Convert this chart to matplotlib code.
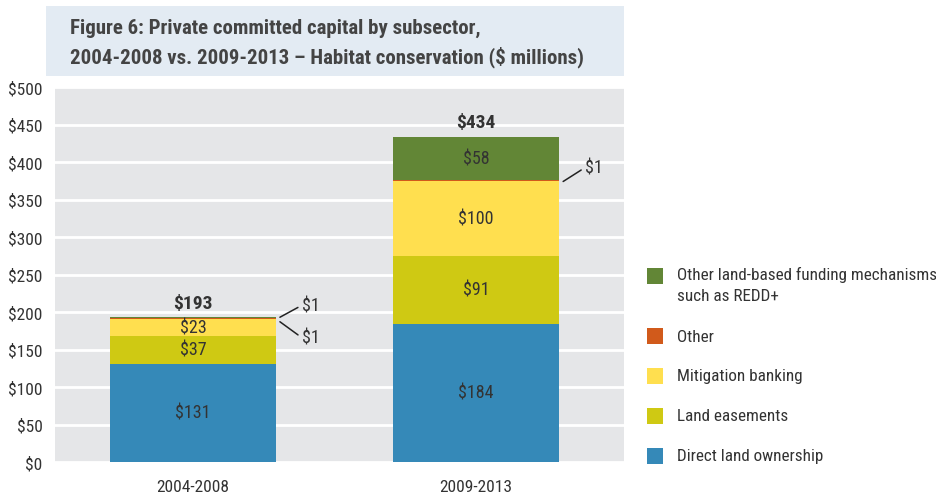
import matplotlib
matplotlib.use('Agg')
import matplotlib.pyplot as plt
from matplotlib import font_manager
from matplotlib.patches import Rectangle

# ---------------- data ----------------
periods = ['2004-2008', '2009-2013']
subsectors = ['Direct land ownership', 'Land easements', 'Mitigation banking', 'Other',
              'Other land-based funding mechanisms\nsuch as REDD+']
direct_land = [131, 184]
land_easements = [37, 91]
mitigation_banking = [23, 100]
other = [1, 1]
other_land_based = [1, 58]
totals = [193, 434]
yticks = [0, 50, 100, 150, 200, 250, 300, 350, 400, 450, 500]
ytick_labels = ['$0', '$50', '$100', '$150', '$200', '$250', '$300', '$350', '$400', '$450', '$500']
title = 'Figure 6: Private committed capital by subsector,\n2004-2008 vs. 2009-2013 – Habitat conservation ($ millions)'

colors = ['#3589b8', '#cfc913', '#ffdf4f', '#d15a1b', '#628636']
TEXT = '#333333'

# ---------------- fonts ----------------
avail = {f.name for f in font_manager.fontManager.ttflist}
font = 'DejaVu Sans'
for cand in ['Liberation Sans Narrow', 'Roboto Condensed', 'Open Sans Condensed', 'DejaVu Sans Condensed']:
    if cand in avail:
        font = cand
        break
plt.rcParams['font.family'] = [font, 'DejaVu Sans']
if font == 'DejaVu Sans':
    plt.rcParams['font.stretch'] = 'condensed'

fig = plt.figure(figsize=(9.36, 5.02), dpi=100)
W, H = 936, 502

# title box
fig.patches.append(Rectangle((45.5 / W, (H - 77) / H), 578.5 / W, 70 / H,
                             transform=fig.transFigure, facecolor='#e3ebf3', edgecolor='none', zorder=0))
fig.text(70 / W, (H - 43) / H, title, fontsize=15, fontweight='bold', color='#444444',
         ha='left', va='center', linespacing=1.5)

ax = fig.add_axes([55 / W, 39 / H, 569 / W, 375 / H])
ax.set_facecolor('#e5e6e8')
for s in ax.spines.values():
    s.set_visible(False)
ax.set_ylim(0, 500)
ax.set_xlim(-0.487, 1.522)
ax.set_yticks(yticks)
ax.set_yticklabels(ytick_labels)
ax.yaxis.grid(True, color='white', linewidth=2)
ax.set_axisbelow(True)
ax.tick_params(axis='both', length=0, labelsize=12.5, colors=TEXT)
ax.tick_params(axis='y', pad=9)
ax.tick_params(axis='x', pad=12)

x = list(range(len(periods)))
width = 0.586
series = [direct_land, land_easements, mitigation_banking, other, other_land_based]
bottoms = [0] * len(periods)
for vals, col in zip(series, colors):
    ax.bar(x, vals, width, bottom=bottoms, color=col, edgecolor='none', zorder=2)
    for i, v in enumerate(vals):
        if v > 1:
            ax.text(x[i], bottoms[i] + v / 2, f'${v}', ha='center', va='center',
                    fontsize=13, color=TEXT, zorder=3)
    bottoms = [b + v for b, v in zip(bottoms, vals)]

ax.set_xticks(x)
ax.set_xticklabels(periods)

for i, t in enumerate(totals):
    ax.annotate(f'${t}', (x[i], t), xytext=(0, 14), textcoords='offset pixels',
                ha='center', va='center', fontsize=14, fontweight='bold', color=TEXT)

# leader lines for $1 segments
gap = 4 / 283.2
arrow = dict(arrowstyle='-', color='#222222', lw=1.1, shrinkA=1, shrinkB=0, relpos=(0, 0.5))
cum1 = [sum(s[0] for s in series[:k + 1]) for k in range(len(series))]
ax.annotate(f'${other_land_based[0]}', (x[0] + width / 2 + gap, cum1[4]), xytext=(22, 12),
            textcoords='offset pixels', ha='left', va='center', fontsize=13, color=TEXT,
            arrowprops=arrow)
ax.annotate(f'${other[0]}', (x[0] + width / 2 + gap, cum1[3] - 5), xytext=(22, -16),
            textcoords='offset pixels', ha='left', va='center', fontsize=13, color=TEXT,
            arrowprops=arrow)
cum2 = [sum(s[1] for s in series[:k + 1]) for k in range(len(series))]
ax.annotate(f'${other[1]}', (x[1] + width / 2 + gap, cum2[3] - 2), xytext=(22, 14),
            textcoords='offset pixels', ha='left', va='center', fontsize=13, color=TEXT,
            arrowprops=arrow)

# legend (drawn manually, top to bottom)
leg_y = [277, 337, 377, 417, 457]
for lab, col, yy in zip(subsectors[::-1], colors[::-1], leg_y):
    fig.patches.append(Rectangle((647 / W, (H - yy - 8) / H), 16 / W, 16 / H,
                                 transform=fig.transFigure, facecolor=col, edgecolor='none'))
    if '\n' in lab:
        fig.text(677 / W, (H - yy + 10) / H, lab, ha='left', va='top',
                 fontsize=12.3, color=TEXT, linespacing=1.5)
    else:
        fig.text(677 / W, (H - yy) / H, lab, ha='left', va='center',
                 fontsize=12.3, color=TEXT)

fig.savefig('out.png', dpi=100)
